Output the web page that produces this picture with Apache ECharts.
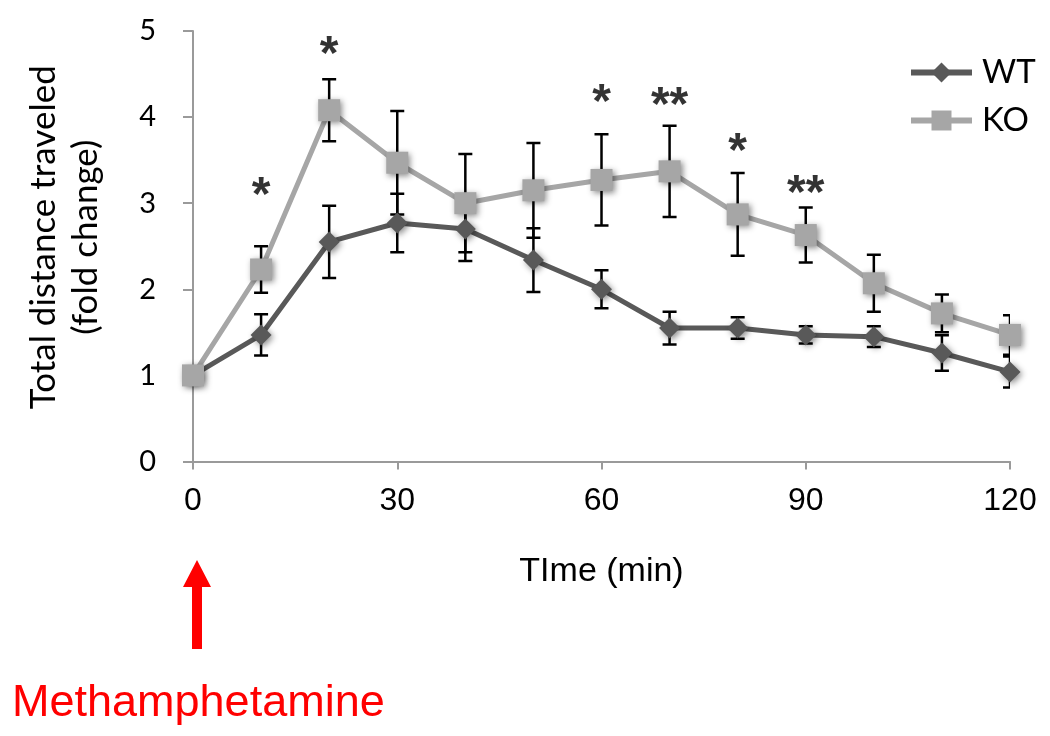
<!DOCTYPE html>
<html>
<head>
<meta charset="utf-8">
<script src="https://cdn.jsdelivr.net/npm/echarts@6/dist/echarts.min.js"></script>
<style>
html,body{margin:0;padding:0;background:#fff;}
#c{width:1050px;height:736px;}
</style>
</head>
<body>
<div id="c"></div>
<script>
var times = [0, 10, 20, 30, 40, 50, 60, 70, 80, 90, 100, 110, 120];
var wtMean = [1.00, 1.47, 2.55, 2.77, 2.70, 2.34, 2.00, 1.55, 1.55, 1.47, 1.45, 1.26, 1.04];
var wtErr  = [0, 0.24, 0.42, 0.34, 0.37, 0.37, 0.22, 0.19, 0.125, 0.10, 0.12, 0.205, 0.18];
var koMean = [1.00, 2.23, 4.08, 3.47, 3.00, 3.15, 3.27, 3.37, 2.87, 2.63, 2.07, 1.72, 1.47];
var koErr  = [0, 0.27, 0.36, 0.60, 0.57, 0.55, 0.53, 0.53, 0.48, 0.32, 0.33, 0.22, 0.23];
var starTimes  = [10, 20, 60, 70, 80, 90];
var starLabels = ['*', '*', '*', '**', '*', '**'];
var starY      = [3.07, 4.71, 4.16, 4.12, 3.59, 3.10];
var xTicks = [0, 30, 60, 90, 120];

var chart = echarts.init(document.getElementById('c'), null, {renderer: 'canvas'});

function pairs(xs, ys) { return xs.map(function (x, i) { return [x, ys[i]]; }); }
function errData(xs, ys, es) { return xs.map(function (x, i) { return [x, ys[i], es[i]]; }); }

function renderErr(params, api) {
  var x = api.value(0), y = api.value(1), e = api.value(2);
  if (!e) return null;
  var hi = api.coord([x, y + e]);
  var lo = api.coord([x, y - e]);
  var cw = 7;
  var st = {stroke: '#000', lineWidth: 2.5};
  return {type: 'group', children: [
    {type: 'line', shape: {x1: hi[0], y1: hi[1], x2: lo[0], y2: lo[1]}, style: st},
    {type: 'line', shape: {x1: hi[0] - cw, y1: hi[1], x2: hi[0] + cw, y2: hi[1]}, style: st},
    {type: 'line', shape: {x1: lo[0] - cw, y1: lo[1], x2: lo[0] + cw, y2: lo[1]}, style: st}
  ]};
}

var axisGray = '#9a9a9a';
var shadow = {shadowBlur: 6, shadowColor: 'rgba(0,0,0,0.45)', shadowOffsetX: 2, shadowOffsetY: 2};

var option = {
  animation: false,
  backgroundColor: '#fff',
  grid: {left: 193, right: 40, top: 31, bottom: 274.5, outerBoundsMode: 'none', containLabel: false},
  legend: {
    orient: 'vertical',
    left: 908, top: 56, padding: 0,
    itemWidth: 61, itemHeight: 25, itemGap: 15,
    lineStyle: {width: 6},
    textStyle: {fontFamily: 'Lato', fontSize: 33, color: '#000', lineHeight: 32, padding: [0, 0, 0, 5]},
    data: ['WT', 'KO']
  },
  xAxis: {
    type: 'value', min: 0, max: 120, interval: 30,
    axisLine: {show: true, lineStyle: {color: axisGray, width: 2}},
    axisTick: {show: true, length: 8, lineStyle: {color: axisGray, width: 2},
      customValues: xTicks},
    axisLabel: {fontFamily: 'Liberation Sans', fontSize: 32, color: '#000', margin: 24,
      customValues: xTicks},
    splitLine: {show: false},
    name: 'TIme (min)', nameLocation: 'middle', nameGap: 93,
    nameTextStyle: {fontFamily: 'Liberation Sans', fontSize: 34, color: '#000'}
  },
  yAxis: {
    type: 'value', min: 0, max: 5, interval: 1,
    axisLine: {show: true, lineStyle: {color: axisGray, width: 2}},
    axisTick: {show: true, length: 10, lineStyle: {color: axisGray, width: 2}},
    axisLabel: {fontFamily: 'Lato', fontSize: 29, color: '#000', margin: 37},
    splitLine: {show: false},
    name: 'Total distance traveled\n(fold change)', nameLocation: 'middle', nameGap: 86, nameRotate: 90,
    nameTextStyle: {fontFamily: 'Lato', fontSize: 35, color: '#000', lineHeight: 42, padding: [0, 0, 0, 18]}
  },
  graphic: [
    {type: 'polygon', shape: {points: [[197, 560], [211, 587], [202, 587], [202, 649], [192, 649], [192, 587], [183, 587]]},
      style: {fill: '#ff0000'}},
    {type: 'text', left: 12, top: 681,
      style: {text: 'Methamphetamine', fill: '#ff0000', font: '45px "Liberation Sans"'}}
  ],
  series: [
    {type: 'custom', name: 'wtErr', renderItem: renderErr, data: errData(times, wtMean, wtErr), z: 1, clip: true, silent: true},
    {type: 'custom', name: 'koErr', renderItem: renderErr, data: errData(times, koMean, koErr), z: 1, clip: true, silent: true},
    {type: 'line', name: 'WT', data: pairs(times, wtMean), z: 3,
      symbol: 'diamond', symbolSize: [21, 21], showSymbol: true,
      lineStyle: {color: '#595959', width: 5},
      itemStyle: Object.assign({color: '#595959'}, shadow)},
    {type: 'line', name: 'KO', data: pairs(times, koMean), z: 4,
      symbol: 'rect', symbolSize: [22, 22], showSymbol: true,
      lineStyle: {color: '#a6a6a6', width: 5},
      itemStyle: Object.assign({color: '#a6a6a6'}, shadow)},
    {type: 'scatter', name: 'stars', silent: true, z: 5,
      symbolSize: 0,
      data: starTimes.map(function (t, i) { return {value: [t, starY[i]], name: starLabels[i]}; }),
      label: {show: true, position: 'inside', formatter: function (p) { return p.name; },
        fontFamily: 'Liberation Sans', fontWeight: 'bold', fontSize: 48, color: '#000'}}
  ]
};
chart.setOption(option);
</script>
</body>
</html>
